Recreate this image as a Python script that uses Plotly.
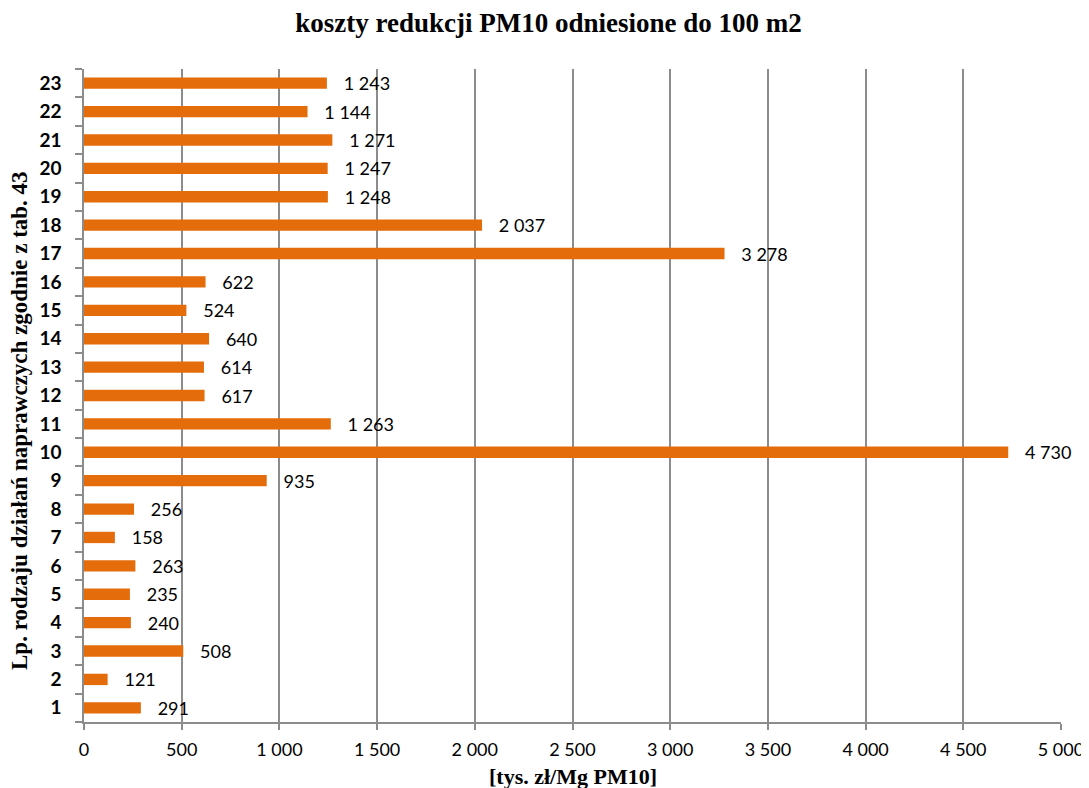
"""Koszty redukcji PM10 odniesione do 100 m2 - wykres słupkowy poziomy."""

import plotly.graph_objects as go

kategorie = [str(i) for i in range(1, 24)]
koszty = [291, 121, 508, 240, 235, 263, 158, 256, 935, 4730, 1263, 617, 614,
          640, 524, 622, 3278, 2037, 1248, 1247, 1271, 1144, 1243]

ticki_x = [0, 500, 1000, 1500, 2000, 2500, 3000, 3500, 4000, 4500, 5000]

POMARANCZ = "#E46C0A"
SZARY = "#8C8C8C"
SERIF = "Liberation Serif, Times New Roman, serif"
SANS = "Lato, Open Sans, sans-serif"

fig = go.Figure(
    go.Bar(
        x=koszty,
        y=kategorie,
        orientation="h",
        marker=dict(color=POMARANCZ, line=dict(width=0)),
        width=0.4,
        text=koszty,
        texttemplate="\u00a0\u00a0\u00a0%{x:,d}",
        textposition="outside",
        constraintext="none",
        cliponaxis=False,
        textfont=dict(size=18, color="#000000", family=SANS),
        hoverinfo="skip",
    )
)

# strona ma 8 px marginesu body, stąd mniejsza figura i marginesy
fig.update_layout(
    width=1081,
    height=780,
    separators=", ",
    paper_bgcolor="white",
    plot_bgcolor="white",
    showlegend=False,
    margin=dict(l=76, r=28, t=61, b=66),
    title=dict(
        text="<b>koszty redukcji PM10 odniesione do 100 m2</b>",
        font=dict(size=27, color="#000000", family=SERIF),
        x=0.5,
        xanchor="center",
        y=0.982,
        yanchor="middle",
    ),
    annotations=[
        dict(
            text="<b>Lp. rodzaju działań naprawczych zgodnie z tab. 43</b>",
            font=dict(size=23, color="#000000", family=SERIF),
            textangle=-90,
            xref="paper", yref="paper",
            x=-0.0655, y=0.461,
            xanchor="center", yanchor="middle",
            showarrow=False,
            borderpad=0,
        ),
        dict(
            text="<b>[tys. zł/Mg PM10]</b>",
            font=dict(size=22, color="#000000", family=SERIF),
            xref="paper", yref="paper",
            x=0.5, y=-0.083,
            xanchor="center", yanchor="middle",
            showarrow=False,
        ),
    ],
)

fig.update_xaxes(
    range=[0, 5000],
    tickvals=ticki_x,
    tickformat=",d",
    separatethousands=True,
    automargin=False,
    showgrid=True,
    gridcolor=SZARY,
    gridwidth=1.5,
    showline=True,
    linecolor=SZARY,
    linewidth=1.5,
    ticks="outside",
    ticklen=6,
    tickcolor=SZARY,
    tickwidth=1.5,
    ticklabelstandoff=5,
    tickfont=dict(size=18, color="#000000", family=SANS),
    zeroline=False,
)

fig.update_yaxes(
    type="category",
    categoryorder="array",
    categoryarray=kategorie,
    automargin=False,
    showgrid=False,
    showline=True,
    linecolor=SZARY,
    linewidth=1.5,
    ticks="outside",
    tickson="boundaries",
    ticklen=7,
    tickcolor=SZARY,
    tickwidth=1.5,
    ticklabelstandoff=17,
    tickfont=dict(size=19, color="#000000", family="Lato, sans-serif", weight="bold"),
)

fig.write_html("out.html")
